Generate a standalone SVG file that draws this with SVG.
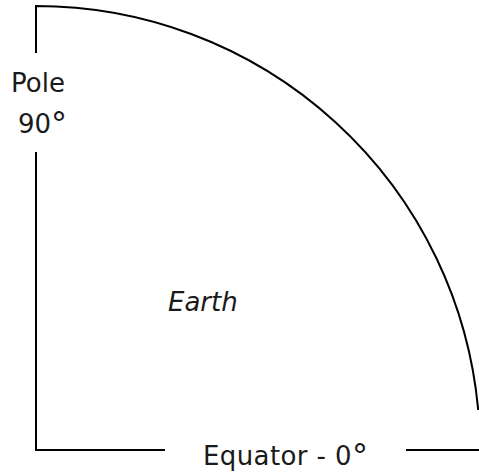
<svg xmlns="http://www.w3.org/2000/svg" width="479" height="475" viewBox="0 0 479 475">
<style>
.ln{fill:none;stroke:#000;stroke-width:2}
.t{font-family:"DejaVu Sans","Liberation Sans",sans-serif;font-size:26px;fill:#1a1a1a}
.deg{font-size:32px}
</style>
<rect width="479" height="475" fill="#fff"/>
<g id="outline">
<path class="ln" d="M36,53 V6 A444,444 0 0 1 478.2,410"/>
<path class="ln" d="M36,152 V450 H165"/>
<path class="ln" d="M406,450 H480"/>
</g>
<g id="labels">
<text class="t" x="11" y="92">Pole</text>
<text class="t" x="18" y="133">90<tspan class="deg" dy="2">°</tspan></text>
<text class="t" x="168" y="311" font-style="italic">Earth</text>
<text class="t" x="203" y="465" textLength="165">Equator - 0<tspan class="deg" dy="2">°</tspan></text>
</g>
</svg>
